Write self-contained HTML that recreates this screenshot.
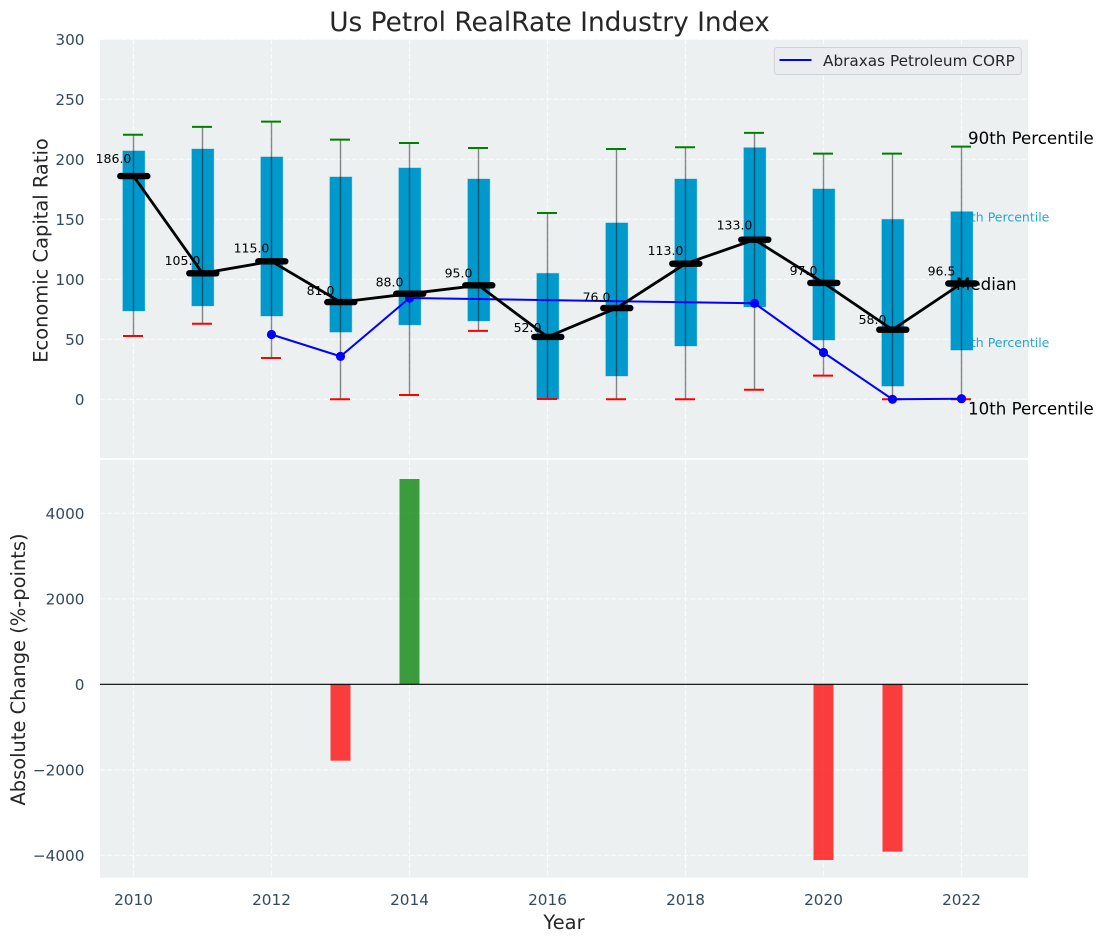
<!DOCTYPE html>
<html lang="en">
<head>
<meta charset="utf-8">
<title>Us Petrol RealRate Industry Index</title>
<style>
html,body{margin:0;padding:0;background:#fff;width:1103px;height:942px;overflow:hidden}
svg{display:block;font-family:"DejaVu Sans","Liberation Sans",sans-serif}
</style>
</head>
<body>
<svg id="chart" xmlns="http://www.w3.org/2000/svg" width="1103" height="942" viewBox="0 0 1103 942">
  <text x="549.5" y="31" text-anchor="middle" font-size="26.4" fill="#262626">Us Petrol RealRate Industry Index</text>
  <rect x="100" y="39.5" width="928" height="418.5" fill="#ecf0f1"/>
  <rect x="100" y="460" width="928" height="417.7" fill="#ecf0f1"/>
  <g id="grid"></g>
  <g id="percentile-labels"></g>
  <g id="boxes"></g>
  <g id="whiskers"></g>
  <g id="company"></g>
  <g id="medians"></g>
  <g id="value-labels"></g>
  <g id="bars"></g>
  <line x1="100" x2="1028" y1="684.3" y2="684.3" stroke="#000" stroke-width="1.2"/>
  <g id="ticks"></g>
  <text transform="translate(47.5,250.5) rotate(-90)" text-anchor="middle" font-size="19.44" fill="#262626">Economic Capital Ratio</text>
  <text transform="translate(25,669.5) rotate(-90)" text-anchor="middle" font-size="19.44" fill="#262626">Absolute Change (%-points)</text>
  <text x="564" y="929" text-anchor="middle" font-size="19.44" fill="#262626">Year</text>
  <g>
    <rect x="774.3" y="47.5" width="247" height="27" rx="3" fill="#e9ebf0" fill-opacity="0.92" stroke="#cfd2d6" stroke-width="1"/>
    <line x1="779.5" x2="811.5" y1="60" y2="60" stroke="#0000ff" stroke-width="2"/>
    <text x="823" y="66" font-size="15.28" fill="#262626">Abraxas Petroleum CORP</text>
  </g>
</svg>
<script>
const years = [2010, 2011, 2012, 2013, 2014, 2015, 2016, 2017, 2018, 2019, 2020, 2021, 2022];
const p90Values = [220.5, 227, 231.4, 216.4, 213.6, 209.4, 155.3, 208.6, 210, 222, 204.7, 204.7, 210.6];
const p75Values = [207, 208.6, 202, 185.3, 192.8, 183.6, 105, 147, 183.6, 209.7, 175.3, 150, 156.4];
const medianValues = [186, 105, 115, 81, 88, 95, 52, 76, 113, 133, 97, 58, 96.5];
const p25Values = [73.6, 77.8, 69.4, 56, 62, 65.3, 0, 19.4, 44.4, 77, 49.4, 11, 41];
const p10Values = [52.8, 63, 34.4, 0, 3.6, 57, 0.3, 0, 0, 8, 19.7, 0, 0];
const companyYears = [2012, 2013, 2014, 2019, 2020, 2021, 2022];
const companyValues = [54, 35.8, 84.4, 80, 39, 0, 0.5];
const changeYears = [2013, 2014, 2020, 2021];
const changeValues = [-1787, 4802, -4110, -3915];
const xTickLabels = [2010, 2012, 2014, 2016, 2018, 2020, 2022];
const yTopTickLabels = [0, 50, 100, 150, 200, 250, 300];
const yBottomTickLabels = [-4000, -2000, 0, 2000, 4000];

const NS = 'http://www.w3.org/2000/svg';
const xScale = function (v) { return 133.5 + (v - 2010) * 69; };
const yTop = function (v) { return 399.3 - v * 1.2; };
const yBottom = function (v) { return 684.3 - v * 0.04275; };

function mk(tag, attrs, parentId, content) {
  const node = document.createElementNS(NS, tag);
  Object.keys(attrs).forEach(function (k) { node.setAttribute(k, attrs[k]); });
  if (content !== undefined) node.textContent = content;
  document.getElementById(parentId).appendChild(node);
  return node;
}

// grid
xTickLabels.forEach(function (t) {
  [[39.5, 458], [460, 877.7]].forEach(function (span) {
    const el = mk('line', {x1: xScale(t), x2: xScale(t), y1: span[0], y2: span[1], stroke: '#fff', 'stroke-width': 1.2, 'stroke-dasharray': '5 2.2', 'stroke-opacity': 0.75}, 'grid');
    
    
  });
});
yTopTickLabels.forEach(function (t) {
  const el = mk('line', {x1: 100, x2: 1028, y1: yTop(t), y2: yTop(t), stroke: '#fff', 'stroke-width': 1.2, 'stroke-dasharray': '5 2.2', 'stroke-opacity': 0.75}, 'grid');
  
  
});
yBottomTickLabels.forEach(function (t) {
  const el = mk('line', {x1: 100, x2: 1028, y1: yBottom(t), y2: yBottom(t), stroke: '#fff', 'stroke-width': 1.2, 'stroke-dasharray': '5 2.2', 'stroke-opacity': 0.75}, 'grid');
  
  
});

// percentile labels attached to the last year
const lastIndex = years.length - 1;
const lastX = xScale(years[lastIndex]);
const label75 = mk('text', {x: 955, y: yTop(p75Values[lastIndex]) + 10, 'font-size': 12.5, fill: '#0099cc', 'fill-opacity': 0.85}, 'percentile-labels', '75th Percentile');


const label25 = mk('text', {x: 955, y: yTop(p25Values[lastIndex]) - 3.3, 'font-size': 12.5, fill: '#0099cc', 'fill-opacity': 0.85}, 'percentile-labels', '25th Percentile');



// boxes, whiskers, caps
years.forEach(function (year, i) {
  const cx = xScale(year);
  const box = mk('rect', {x: cx - 10.7, y: yTop(p75Values[i]), width: 22, height: yTop(p25Values[i]) - yTop(p75Values[i]), fill: '#0099cc', stroke: '#0099cc', 'stroke-opacity': 0.3, 'stroke-width': 1}, 'boxes');
  
  
  const whisker = mk('line', {x1: cx, x2: cx, y1: yTop(p90Values[i]), y2: yTop(p10Values[i]), stroke: '#000', 'stroke-opacity': 0.45, 'stroke-width': 1.4}, 'whiskers');
  
  
  const capHigh = mk('line', {x1: cx - 10.5, x2: cx + 9.5, y1: yTop(p90Values[i]), y2: yTop(p90Values[i]), stroke: '#008000', 'stroke-width': 2}, 'whiskers');
  
  
  const capLow = mk('line', {x1: cx - 10.5, x2: cx + 9.5, y1: yTop(p10Values[i]), y2: yTop(p10Values[i]), stroke: '#ff0000', 'stroke-width': 2}, 'whiskers');
  
  
});

// company line
const companyLine = mk('polyline', {points: companyYears.map(function (y, i) { return xScale(y) + ',' + yTop(companyValues[i]); }).join(' '), fill: 'none', stroke: '#0000ff', 'stroke-width': 2}, 'company');


companyYears.forEach(function (y, i) {
  const dot = mk('circle', {cx: xScale(y), cy: yTop(companyValues[i]), r: 4.6, fill: '#0000ff'}, 'company');
  
  
});

// median line, markers and printed values
const medianLine = mk('polyline', {points: years.map(function (y, i) { return xScale(y) + ',' + yTop(medianValues[i]); }).join(' '), fill: 'none', stroke: '#000', 'stroke-width': 2.8}, 'medians');


years.forEach(function (year, i) {
  const cx = xScale(year);
  const my = yTop(medianValues[i]);
  const bar = mk('line', {x1: cx - 13.2, x2: cx + 13.8, y1: my, y2: my, stroke: '#000', 'stroke-width': 6.4, 'stroke-linecap': 'round'}, 'medians');
  
  
  const label = mk('text', {x: cx - 20, y: yTop(medianValues[i] * 1.05) - 2, 'text-anchor': 'middle', 'font-size': 12.5, fill: '#000'}, 'value-labels', medianValues[i].toFixed(1));
  
  
});

// outer annotations
const label90 = mk('text', {x: lastX + 6.5, y: yTop(p90Values[lastIndex]) - 2.5, 'font-size': 16.67, fill: '#000'}, 'value-labels', '90th Percentile');


const labelMedian = mk('text', {x: lastX - 5.5, y: yTop(medianValues[lastIndex]) + 6.3, 'font-size': 16.67, fill: '#000'}, 'value-labels', 'Median');


const label10 = mk('text', {x: lastX + 6.5, y: yTop(p10Values[lastIndex]) + 15, 'font-size': 16.67, fill: '#000'}, 'value-labels', '10th Percentile');



// change bars
changeYears.forEach(function (year, i) {
  const v = changeValues[i];
  const top = Math.min(yBottom(0), yBottom(v));
  const h = Math.abs(yBottom(v) - yBottom(0));
  const bar = mk('rect', {x: xScale(year) - 10, y: top, width: 20, height: h, fill: v >= 0 ? '#008000' : '#ff0000', 'fill-opacity': 0.75}, 'bars');
  
  
});

// tick labels
xTickLabels.forEach(function (t) {
  const el = mk('text', {x: xScale(t), y: 905, 'text-anchor': 'middle', 'font-size': 15.28, fill: '#34495e'}, 'ticks', String(t));
  
  
});
yTopTickLabels.forEach(function (t) {
  const el = mk('text', {x: 84.5, y: yTop(t) + 5.6, 'text-anchor': 'end', 'font-size': 15.28, fill: '#34495e'}, 'ticks', String(t));
  
  
});
yBottomTickLabels.forEach(function (t) {
  const el = mk('text', {x: 84.5, y: yBottom(t) + 5.6, 'text-anchor': 'end', 'font-size': 15.28, fill: '#34495e'}, 'ticks', String(t).replace('-', '\u2212'));
  
  
});
</script>
</body>
</html>
